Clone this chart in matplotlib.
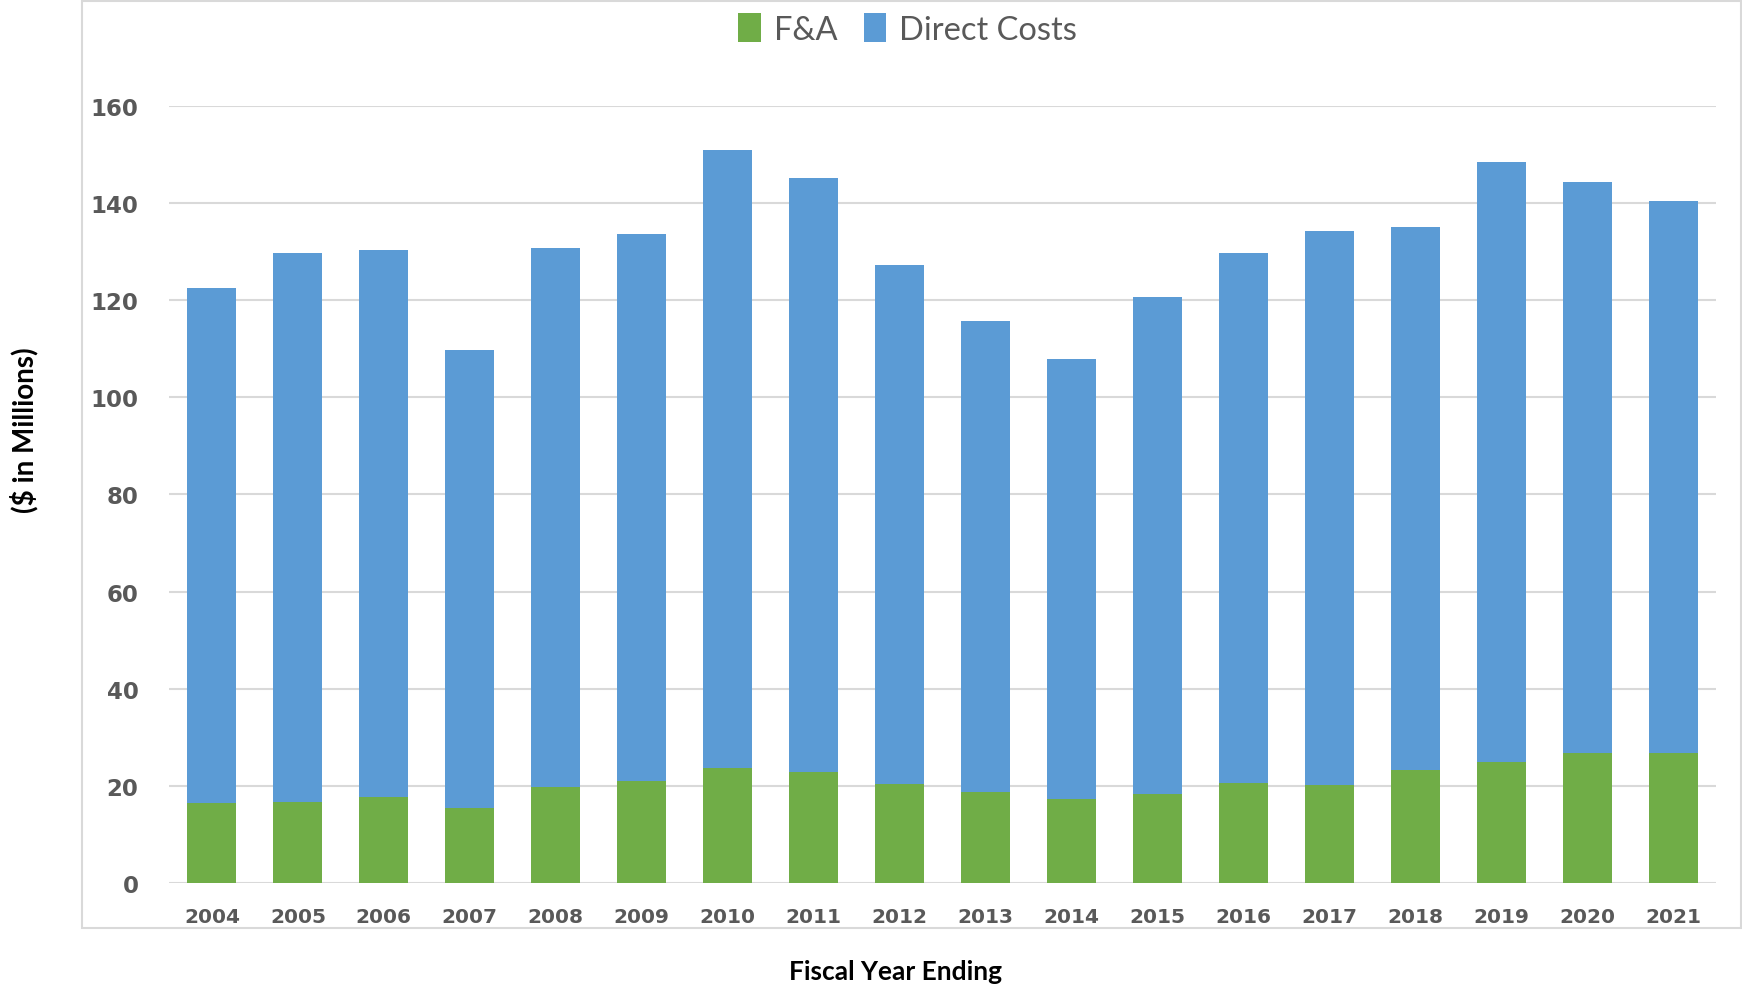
import matplotlib
matplotlib.use("Agg")
import matplotlib.pyplot as plt
from matplotlib.patches import Rectangle

years = ['2004', '2005', '2006', '2007', '2008', '2009', '2010', '2011', '2012',
         '2013', '2014', '2015', '2016', '2017', '2018', '2019', '2020', '2021']
fa = [16.4, 16.7, 17.7, 15.5, 19.8, 20.9, 23.6, 22.8, 20.3,
      18.7, 17.2, 18.3, 20.5, 20.1, 23.2, 25.0, 26.8, 26.8]
direct = [106.2, 113.0, 112.6, 94.2, 110.9, 112.8, 127.4, 122.4, 107.0,
          97.0, 90.6, 102.3, 109.3, 114.1, 111.8, 123.4, 117.5, 113.7]
yticks = [0, 20, 40, 60, 80, 100, 120, 140, 160]

GREEN = '#70AD47'
BLUE = '#5B9BD5'
GRID = '#D9D9D9'
TXT = '#595959'

fig = plt.figure(figsize=(17.42, 9.87), dpi=100)
ax = fig.add_axes([0.0970, 0.1044, 0.8881, 0.7872])

# chart area border
fig.patches.append(Rectangle((0.0471, 0.0588), 0.9523, 0.9392, transform=fig.transFigure,
                             fill=False, edgecolor=GRID, linewidth=1.5))

x = range(len(years))
ax.bar(x, fa, width=0.57, color=GREEN, label='F&A', zorder=3)
ax.bar(x, direct, width=0.57, bottom=fa, color=BLUE, label='Direct Costs', zorder=3)

ax.set_xlim(-0.5, len(years) - 0.5)
ax.set_ylim(0, 160)
ax.set_yticks(yticks)
ax.yaxis.grid(True, color=GRID, linewidth=1.5, zorder=0)
ax.set_axisbelow(True)
for s in ax.spines.values():
    s.set_visible(False)
ax.tick_params(length=0)
ax.tick_params(axis='y', pad=22)
ax.tick_params(axis='x', pad=17)
ax.set_xticks(list(x))
ax.set_xticklabels(years, fontsize=14.5, fontweight='bold', color=TXT, family='DejaVu Sans')
for t in ax.get_yticklabels():
    t.set_fontsize(16.5)
    t.set_fontweight('bold')
    t.set_color(TXT)

fig.text(0.514, 0.015, 'Fiscal Year Ending', ha='center', va='center',
         fontsize=19, fontweight='bold', family='Lato', color='black')
fig.text(0.014, 0.564, '($ in Millions)', ha='center', va='center', rotation=90,
         fontsize=20, fontweight='bold', family='Lato', color='black')

leg = fig.legend(loc='center', bbox_to_anchor=(0.521, 0.970), ncol=2, frameon=False,
                 prop={'family': 'Lato', 'size': 23.5}, handlelength=0.7, handleheight=1.0,
                 handletextpad=0.4, columnspacing=0.8)
for t in leg.get_texts():
    t.set_color(TXT)

fig.savefig('out.png', dpi=100)
